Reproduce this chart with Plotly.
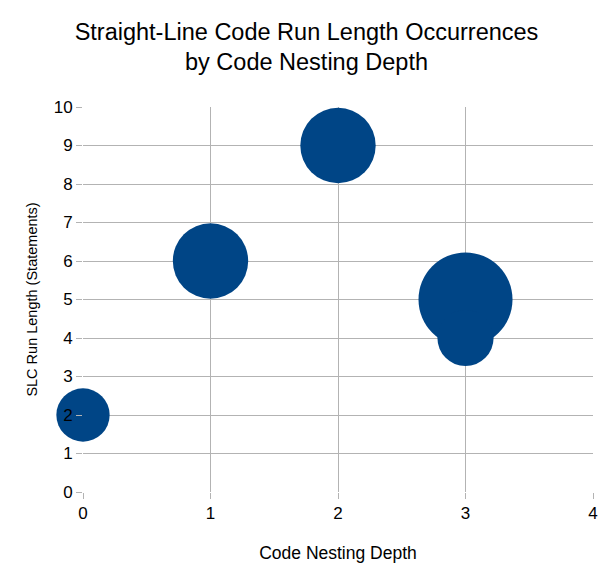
import plotly.graph_objects as go

nesting_depth = [0, 1, 2, 3, 3]
run_length = [2, 6, 9, 5, 4]
occurrences = [9, 18, 18, 28, 10]

x_ticks = [0, 1, 2, 3, 4]
y_ticks = list(range(0, 11))

max_diam = 94
sizeref = 2.0 * max(occurrences) / (max_diam ** 2)

fig = go.Figure()
fig.add_trace(go.Scatter(
    x=nesting_depth, y=run_length, mode="markers",
    marker=dict(size=occurrences, sizemode="area", sizeref=sizeref,
                color="#004586", opacity=1, line=dict(width=0)),
    cliponaxis=False, showlegend=False,
))

font = "Liberation Sans, Arial, sans-serif"
fig.update_layout(
    width=613, height=582,
    margin=dict(l=83, r=20, t=107, b=90),
    paper_bgcolor="white", plot_bgcolor="white",
    font=dict(family=font, color="black"),
    title=dict(text="Straight-Line Code Run Length Occurrences<br>by Code Nesting Depth",
               x=0.5, xanchor="center", yref="container", y=1 - 39.5 / 582, yanchor="middle",
               font=dict(size=23.5, family=font, color="black")),
)
fig.update_xaxes(
    range=[0, 4], tickvals=x_ticks, showgrid=True, gridcolor="#b3b3b3", gridwidth=1,
    zeroline=False, showline=False, ticks="outside", ticklen=6, tickcolor="#b3b3b3",
    tickfont=dict(size=17), title=dict(text="Code Nesting Depth", font=dict(size=17.5), standoff=24),
)
fig.update_yaxes(
    range=[0, 10], tickvals=y_ticks, showgrid=True, gridcolor="#b3b3b3", gridwidth=1,
    zeroline=False, showline=False, ticks="outside", ticklen=6, tickcolor="#b3b3b3",
    tickfont=dict(size=17), title=dict(text="SLC Run Length (Statements)", font=dict(size=14.5), standoff=12),
)
fig.write_html("out.html")
